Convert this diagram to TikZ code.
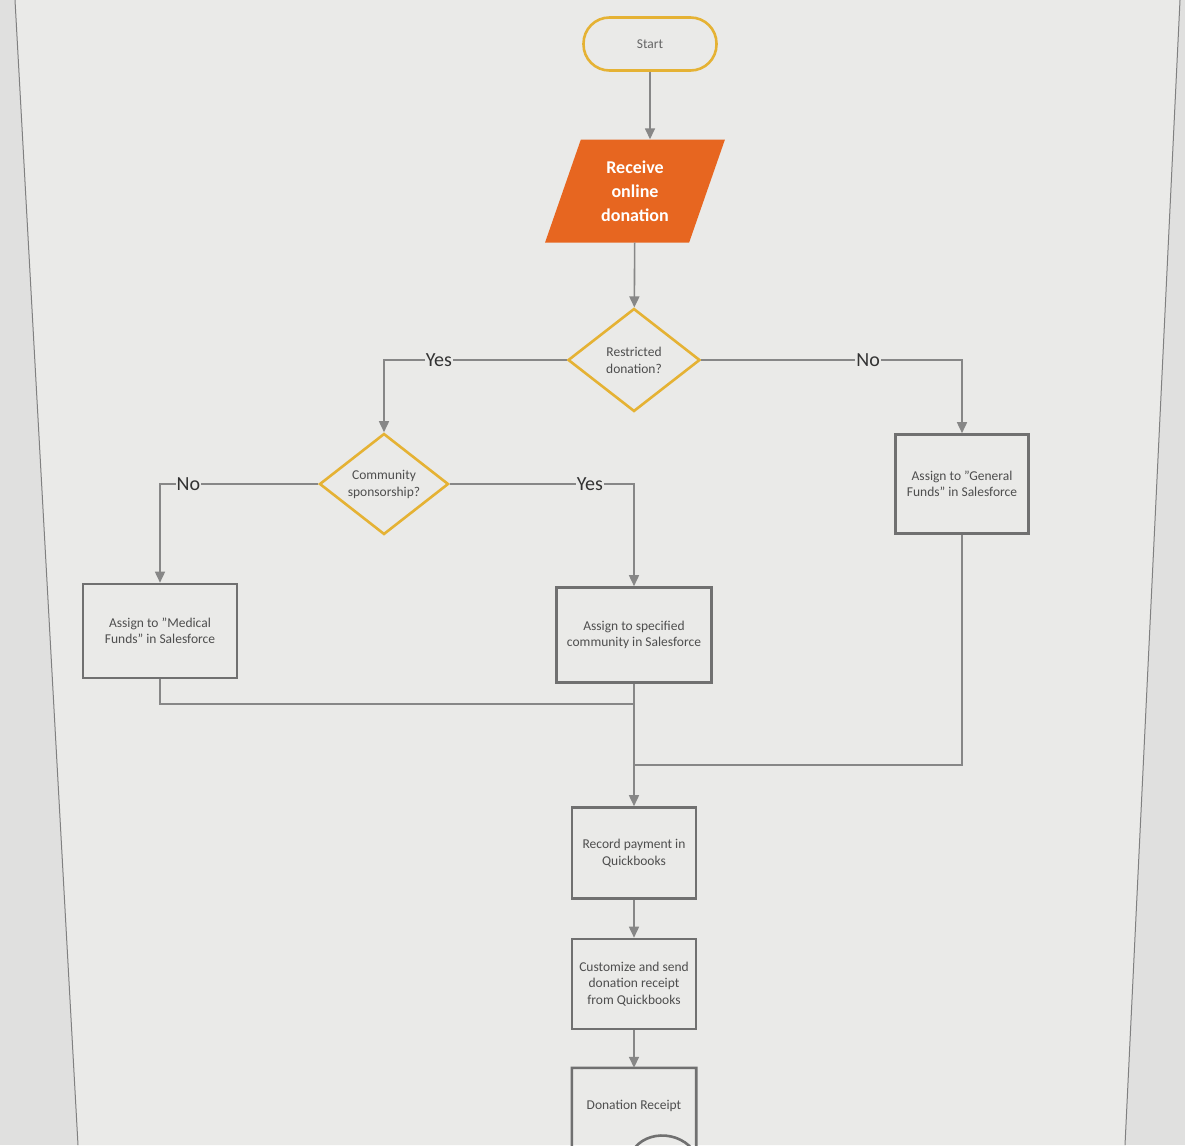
\documentclass[tikz,border=0pt]{standalone}
\usepackage{fontspec}
\setmainfont{Carlito}
\usepackage{tikz}
\usetikzlibrary{shapes,arrows.meta,positioning,calc}
\usepackage{xcolor}

\definecolor{goldline}{RGB}{229,178,52}
\definecolor{inputorange}{RGB}{231,102,32}
\definecolor{lineGray}{RGB}{135,135,135}
\definecolor{boxGray}{RGB}{112,112,112}
\definecolor{textGray}{RGB}{78,78,78}
\definecolor{paper}{RGB}{234,234,232}
\definecolor{desk}{RGB}{224,224,223}

\begin{document}
\begin{tikzpicture}[x=1pt,y=-1pt,
    conn/.style={draw=lineGray, line width=1.6pt},
    arr/.style={conn, -{Triangle[length=11pt,width=10pt]}},
    procbox/.style={draw=boxGray, line width=2.6pt, fill=paper, align=center, text=textGray, font=\fontsize{13.5}{16.5}\selectfont, inner sep=2pt},
    decision/.style={diamond, draw=goldline, line width=2.6pt, fill=paper, align=center, text=textGray, font=\fontsize{13.5}{17}\selectfont, inner sep=0pt},
    lbl/.style={fill=paper, inner sep=1pt, text=black!80, font=\fontsize{20}{24}\selectfont}]
            \useasboundingbox (0,0) rectangle (1185,1145);
            \clip (0,0) rectangle (1185,1145);

            % Page on the desk
            \fill[desk] (0,0) rectangle (1185,1145);
            \fill[paper] (15,0) -- (1180,0) -- (1125,1145) -- (78,1145) -- cycle;
            \draw[gray, line width=1pt] (15,0) -- (78,1145);
            \draw[gray, line width=1pt] (1180,0) -- (1125,1145);

            % Start
            \node[draw=goldline, line width=2.6pt, rounded corners=26pt, fill=paper, minimum width=133pt, minimum height=53pt, text=black!60, font=\fontsize{13.5}{16}\selectfont] (start) at (650,44) {Start};

            % Input
            \node[trapezium, trapezium left angle=70, trapezium right angle=110, trapezium stretches=true, fill=inputorange, minimum width=180pt, minimum height=103pt, align=center, text=white, font=\fontsize{18}{24}\selectfont\bfseries] (receive) at (635,191) {Receive\\online\\donation};

            % First decision
            \node[decision, minimum width=132pt, minimum height=103pt] (restricted) at (634,360) {Restricted\\donation?};

            % Second decision
            \node[decision, minimum width=129pt, minimum height=101pt] (community) at (384,484) {Community\\sponsorship?};

            % Assignments
            \node[procbox, minimum width=154pt, minimum height=94pt] (medical) at (160,631) {Assign to "Medical\\Funds" in Salesforce};
            \node[procbox, minimum width=155pt, minimum height=95pt] (specified) at (634,635) {Assign to specified\\community in Salesforce};
            \node[procbox, minimum width=133pt, minimum height=99pt] (general) at (962,484) {Assign to "General\\Funds" in Salesforce};

            % Quickbooks steps
            \node[procbox, minimum width=124pt, minimum height=91pt] (record) at (634,853) {Record payment in\\Quickbooks};
            \node[procbox, minimum width=124pt, minimum height=90pt] (customize) at (634,984) {Customize and send\\donation receipt\\from Quickbooks};

            % Document
            \node[minimum width=124pt, minimum height=76pt, text=textGray, font=\fontsize{13.5}{16.5}\selectfont] (receipt) at (634,1106) {Donation Receipt};
            \draw[draw=boxGray, line width=2.6pt] ($(receipt.south west)+(0,46)$) -- (receipt.north west) -- (receipt.north east) -- ($(receipt.south east)+(0,10)$)
                .. controls (680,1128) and (640,1130) .. (630,1156)
                .. controls (615,1185) and (585,1185) .. ($(receipt.south west)+(0,46)$);

            % Connectors
            \draw[arr] (start.south) -- (start.south |- receive.north);
            \draw[arr] (receive) -- (restricted);
            \draw[arr] (restricted.west) -| node[lbl, pos=0.35] {Yes} (community.north);
            \draw[arr] (restricted.east) -| node[lbl, pos=0.32] {No} (general.north);
            \draw[arr] (community.west) -| node[lbl, pos=0.41] {No} (medical.north);
            \draw[arr] (community.east) -| node[lbl, pos=0.38] {Yes} (specified.north);

            % Merge into record
            \coordinate (joinA) at (634,704);
            \coordinate (joinB) at (634,765);
            \draw[conn] (medical.south) |- (joinA);
            \draw[conn] (general.south) |- (joinB);
            \draw[arr] (specified) -- (record);
            \draw[arr] (record) -- (customize);
            \draw[arr] (customize) -- (receipt.north);
        \end{tikzpicture}
\end{document}
